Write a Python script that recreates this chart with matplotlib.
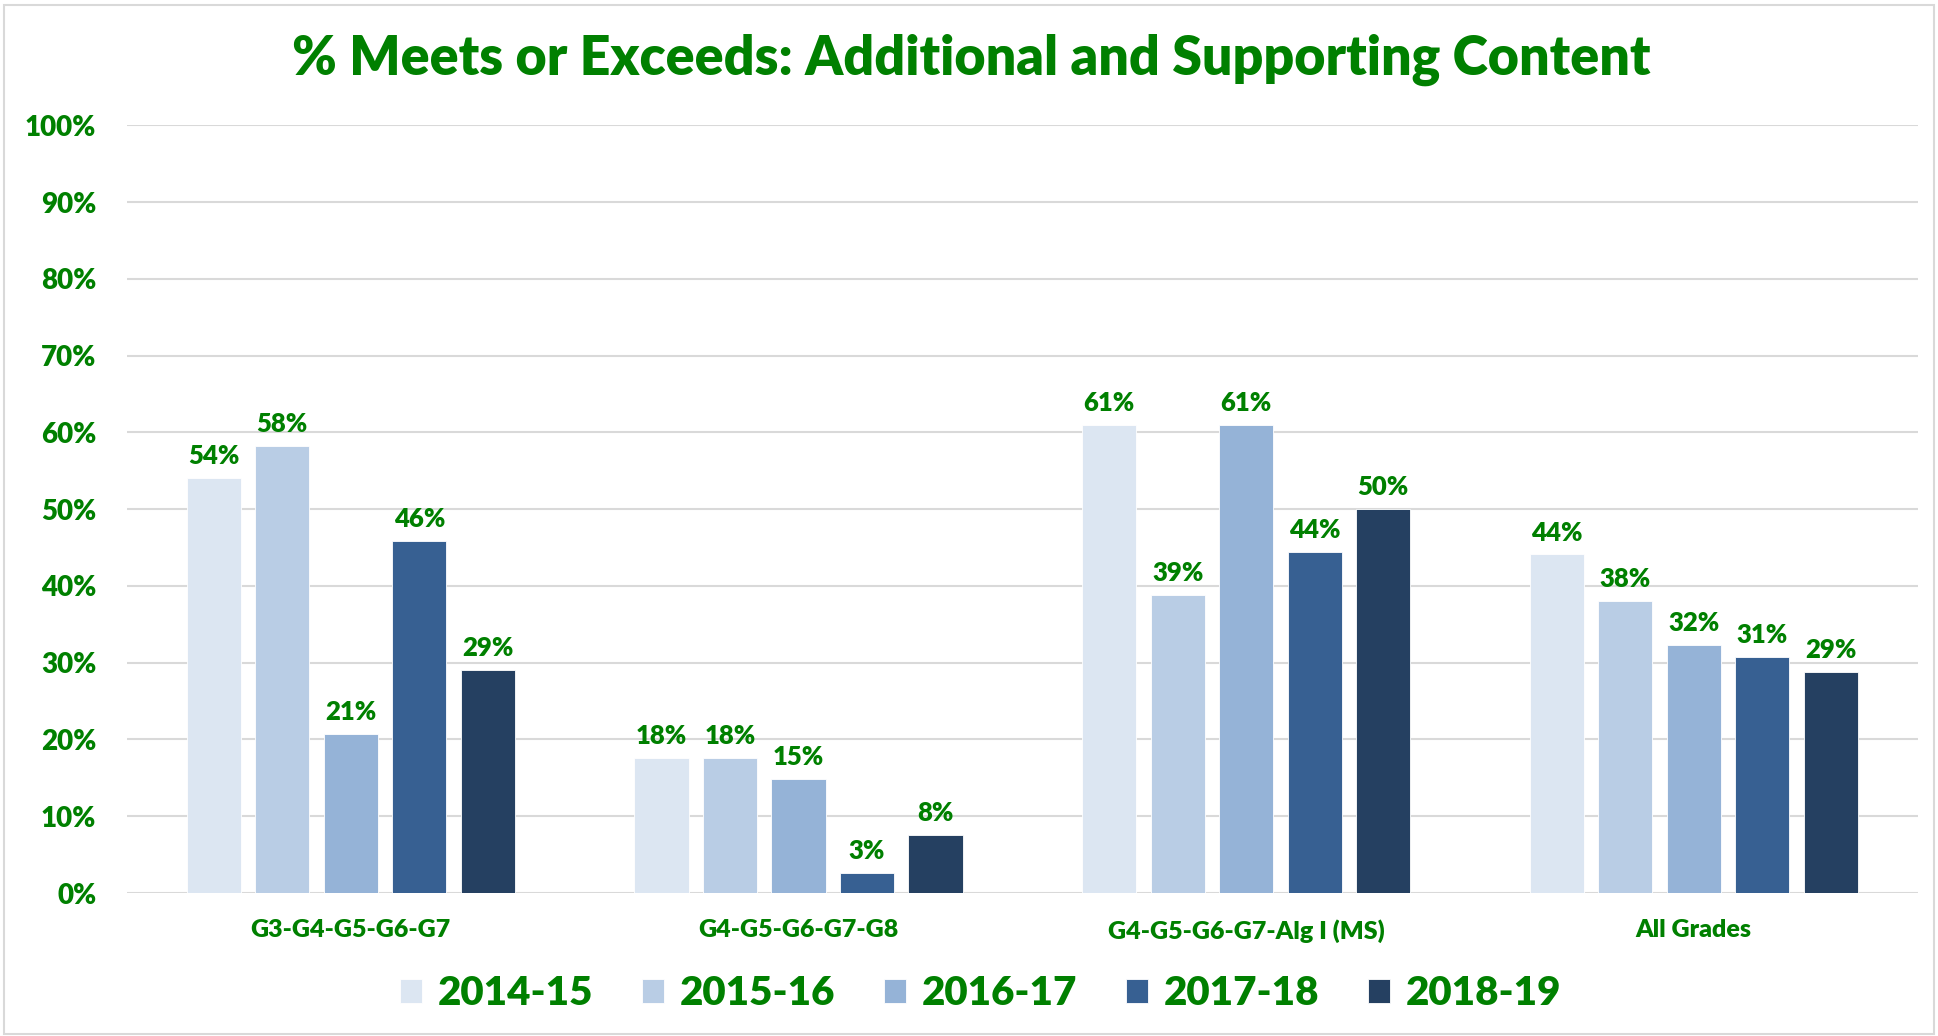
import matplotlib

matplotlib.use("Agg")
import matplotlib.pyplot as plt
import numpy as np
from matplotlib.patches import Rectangle

plt.rcParams["font.family"] = ["Lato", "DejaVu Sans"]
plt.rcParams["font.weight"] = "bold"

GREEN = "#008000"

categories = ["G3-G4-G5-G6-G7", "G4-G5-G6-G7-G8", "G4-G5-G6-G7-Alg I (MS)", "All Grades"]
years = ["2014-15", "2015-16", "2016-17", "2017-18", "2018-19"]
# percent meets/exceeds, one list per school year (values per category)
y2014 = [54.1, 17.6, 61.0, 44.1]
y2015 = [58.2, 17.6, 38.8, 38.1]
y2016 = [20.7, 14.9, 61.0, 32.3]
y2017 = [45.8, 2.6, 44.4, 30.8]
y2018 = [29.1, 7.6, 50.0, 28.8]
series = [y2014, y2015, y2016, y2017, y2018]
colors = ["#DCE6F2", "#B9CDE5", "#95B3D7", "#376092", "#254061"]

fig = plt.figure(figsize=(19.38, 10.36), dpi=100)
ax = fig.add_axes([0.0655, 0.138, 0.924, 0.741])

x = np.arange(len(categories))
step = 0.153
width = 0.121
for i, (vals, col, lab) in enumerate(zip(series, colors, years)):
    pos = x + (i - 2) * step
    bars = ax.bar(pos, vals, width, color=col, label=lab, zorder=3,
                  edgecolor="white", linewidth=0.6)
    for b, v in zip(bars, vals):
        ax.text(b.get_x() + b.get_width() / 2, v + 1.3, f"{v:.0f}%",
                ha="center", va="bottom", color=GREEN, fontsize=18.5,
                fontweight="heavy")

ax.set_xlim(-0.5, len(categories) - 0.5)
ax.set_ylim(0, 100)
ax.set_yticks(np.arange(0, 101, 10))
ax.set_yticklabels([f"{t}%" for t in range(0, 101, 10)])
ax.set_xticks(x)
ax.set_xticklabels(categories)
ax.tick_params(axis="y", length=0, pad=22, labelsize=20, labelcolor=GREEN)
ax.tick_params(axis="x", length=0, pad=19, labelsize=18, labelcolor=GREEN)
for lbl in ax.get_xticklabels() + ax.get_yticklabels():
    lbl.set_fontweight("heavy")
ax.grid(axis="y", color="#D9D9D9", linewidth=1.5, zorder=0)
for s in ax.spines.values():
    s.set_visible(False)

fig.text(0.501, 0.942, "% Meets or Exceeds: Additional and Supporting Content",
         ha="center", va="center", color=GREEN, fontsize=38.6, fontweight="heavy")

leg = fig.legend(loc="center", bbox_to_anchor=(0.506, 0.041), ncol=5,
                 frameon=False, fontsize=29, handlelength=0.55, handleheight=0.55,
                 columnspacing=1.2, handletextpad=0.4)
for t in leg.get_texts():
    t.set_color(GREEN)
    t.set_fontweight("heavy")

fig.patches.append(Rectangle((0.002, 0.002), 0.996, 0.993, transform=fig.transFigure,
                             fill=False, edgecolor="#D9D9D9", linewidth=1.5))

fig.savefig("out.png", dpi=100)
